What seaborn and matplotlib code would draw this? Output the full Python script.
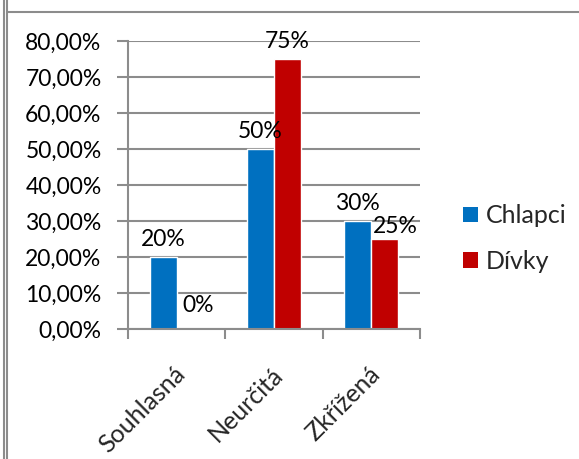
import matplotlib
matplotlib.use("Agg")
import matplotlib.pyplot as plt
from matplotlib.lines import Line2D
from matplotlib.patches import Patch
from matplotlib.ticker import FuncFormatter, FixedLocator
import matplotlib.transforms as mtransforms
import seaborn as sns
import pandas as pd

# Data
categories = ["Souhlasná", "Neurčitá", "Zkřížená"]
series_names = ["Chlapci", "Dívky"]
chlapci = [0.20, 0.50, 0.30]
divky = [0.00, 0.75, 0.25]
y_ticks = [0.0, 0.1, 0.2, 0.3, 0.4, 0.5, 0.6, 0.7, 0.8]

colors = {"Chlapci": "#0070C0", "Dívky": "#C00000"}
grid_gray = "#8C8C8C"
FONT = "Lato"
FS_NUM = 16.5   # numeric labels
FS_TXT = 18     # word labels

sns.set_style("white")
plt.rcParams["font.family"] = [FONT, "DejaVu Sans"]

df = pd.DataFrame({
    "kategorie": categories * 2,
    "skupina": [series_names[0]] * 3 + [series_names[1]] * 3,
    "hodnota": chlapci + divky,
})

fig = plt.figure(figsize=(5.79, 4.59), dpi=100)
ax = fig.add_axes([128 / 579, 1 - 329 / 459, 292 / 579, 288 / 459])

sns.barplot(data=df, x="kategorie", y="hodnota", hue="skupina",
            order=categories, hue_order=series_names, palette=colors,
            width=0.555, saturation=1, ax=ax, legend=False, errorbar=None)

ax.set_xlim(-0.5, 2.5)
ax.set_ylim(0, 0.8)
ax.set_xlabel("")
ax.set_ylabel("")

# Value axis
ax.yaxis.set_major_locator(FixedLocator(y_ticks))
ax.yaxis.set_major_formatter(
    FuncFormatter(lambda v, _: f"{v * 100:.2f}".replace(".", ",") + "%"))
ax.tick_params(axis="y", which="major", direction="out", length=8, width=1.5,
               color=grid_gray, pad=11, labelsize=FS_NUM, labelcolor="black",
               left=True)
ax.yaxis.grid(True, color=grid_gray, linewidth=1.5)
ax.set_axisbelow(True)

# Category axis: tick marks between categories, labels at centres
ax.set_xticks(range(len(categories)))
ax.set_xticklabels(categories, rotation=45, ha="right", va="center",
                   rotation_mode="anchor", fontsize=FS_TXT)
ax.set_xticks([-0.5, 0.5, 1.5, 2.5], minor=True)
ax.tick_params(axis="x", which="major", length=0, pad=30)
ax.tick_params(axis="x", which="minor", direction="out", length=7, width=1.5,
               color=grid_gray, bottom=True)
shift = mtransforms.ScaledTranslation(5 / 100, 0, fig.dpi_scale_trans)
for lbl in ax.get_xticklabels():
    lbl.set_transform(lbl.get_transform() + shift)

for side in ["top", "right"]:
    ax.spines[side].set_visible(False)
for side in ["left", "bottom"]:
    ax.spines[side].set_color(grid_gray)
    ax.spines[side].set_linewidth(1.5)

# Data labels above bars
nudges = {("Dívky", 0): (8, 6), ("Dívky", 2): (10, -5)}
for cont, name in zip(ax.containers, series_names):
    for i, bar in enumerate(cont):
        v = bar.get_height()
        dx, dy = nudges.get((name, i), (0, 0))
        ax.annotate(f"{v * 100:.0f}%",
                    (bar.get_x() + bar.get_width() / 2, v),
                    xytext=(dx * 0.72, (11 + dy) * 0.72),
                    textcoords="offset points",
                    ha="center", va="baseline", fontsize=FS_NUM, color="black",
                    annotation_clip=False)

# Legend
handles = [Patch(facecolor=colors[n], edgecolor="none") for n in series_names]
fig.legend(handles, series_names, loc="center left",
           bbox_to_anchor=(463 / 579, 1 - 238.5 / 459),
           frameon=False, fontsize=FS_TXT, handlelength=0.6, handleheight=0.6,
           handletextpad=0.3, labelspacing=0.9, borderpad=0, borderaxespad=0)

# Chart frame lines
for x in (3.5 / 579, 7.5 / 579):
    fig.add_artist(Line2D([x, x], [0, 1], color=grid_gray, linewidth=1.5,
                          transform=fig.transFigure))
fig.add_artist(Line2D([7.5 / 579, 1], [1 - 12 / 459] * 2, color=grid_gray,
                      linewidth=1.5, transform=fig.transFigure))

fig.savefig("out.png", dpi=100)
